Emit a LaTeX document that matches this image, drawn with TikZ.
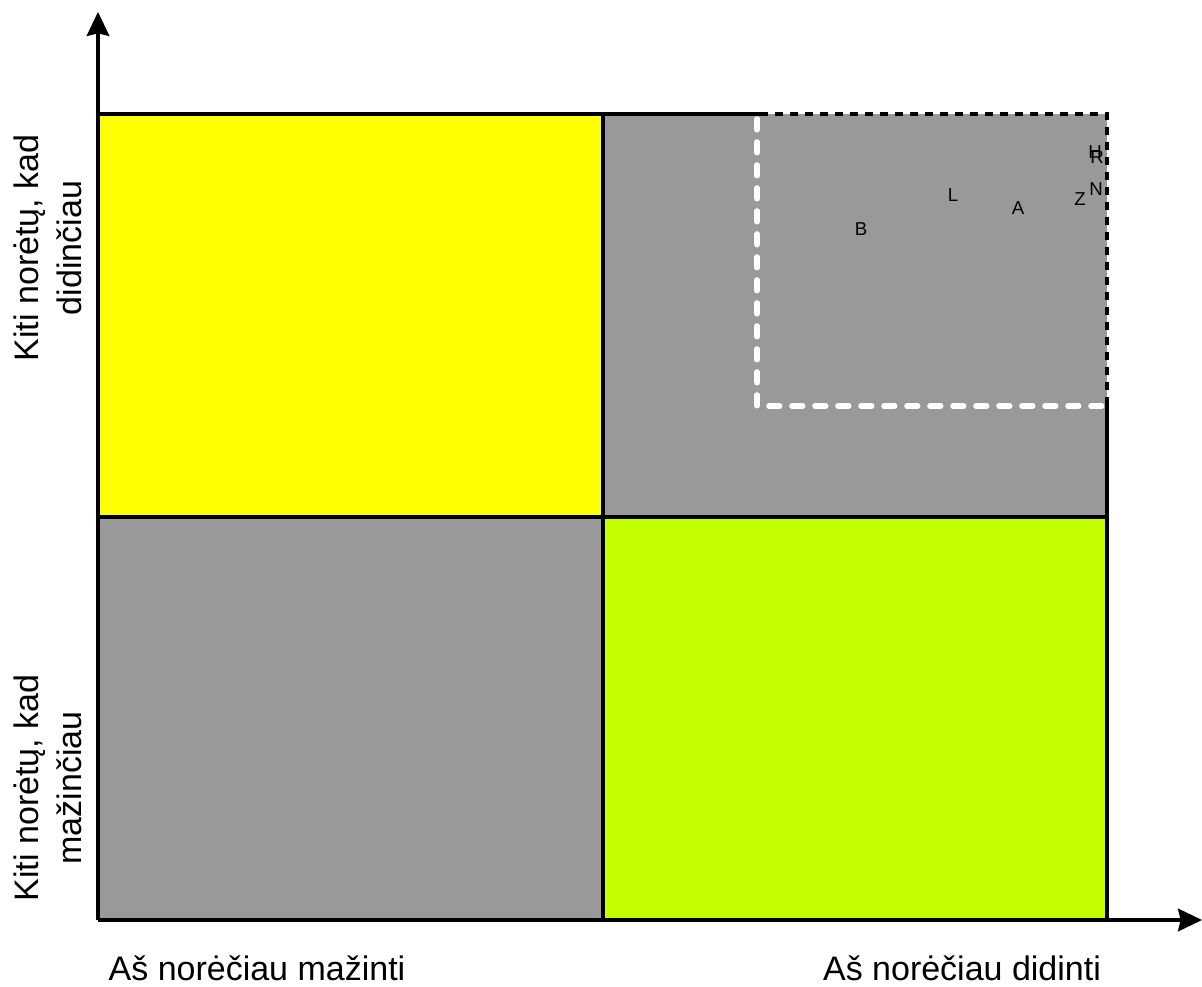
\documentclass[tikz,border=0pt]{standalone}
\usepackage{fontspec}
\setmainfont{Liberation Sans}
\usetikzlibrary{arrows.meta}
\definecolor{qyellow}{RGB}{255,255,0}
\definecolor{qgray}{RGB}{153,153,153}
\definecolor{qlime}{RGB}{196,255,0}
\tikzset{
  frameline/.style={line width=2.6pt, black},
  axisline/.style={line width=2.4pt, black, -{Stealth[length=18pt,width=17pt,inset=2pt]}},
  blackdots/.style={line width=3.4pt, black, dash pattern=on 6pt off 5.25pt},
  whitedash/.style={line width=4.2pt, white, line cap=round, dash pattern=on 8pt off 9.25pt},
  axislabel/.style={font=\fontsize{25.5}{32}\selectfont, inner sep=0pt},
  sidelabel/.style={font=\fontsize{25.5}{32}\selectfont, align=center, rotate=90, inner sep=0pt},
  pt/.style={font=\fontsize{14}{16}\selectfont, inner sep=0pt},
}
\begin{document}
\begin{tikzpicture}[x=0.75pt,y=-0.75pt]
\useasboundingbox (0,0) rectangle (1202,987);
% key coordinates
\coordinate (O) at (98,920);
\coordinate (TL) at (98,114);
\coordinate (TR) at (1107,114);
\coordinate (BR) at (1107,920);
\coordinate (MT) at (603,114);
\coordinate (MB) at (603,920);
\coordinate (ML) at (98,517);
\coordinate (MR) at (1107,517);
\coordinate (C) at (603,517);
\coordinate (Ytip) at (98,12);
\coordinate (Xtip) at (1202,920);
% quadrants
\fill[qyellow] (TL) rectangle (C);
\fill[qgray] (MT) rectangle (MR);
\fill[qgray] (ML) rectangle (MB);
\fill[qlime] (C) rectangle (BR);
% dashed region corners
\coordinate (D1) at (757,119);
\coordinate (D2) at (757,406);
\coordinate (D3) at (1103,406);
\coordinate (DT) at (760,114);
\coordinate (DR) at (1107,405);
% grid lines
\draw[frameline] (MT) -- (MB);
\draw[frameline] (ML) -- (MR);
\draw[frameline] (TL) -- (DT);
\draw[frameline] (DR) -- (BR);
% dashed boundaries
\draw[blackdots] (DT) -- (TR) -- (DR);
\draw[whitedash] (D1) -- (D2) -- (D3);
% axes
\draw[axisline] (O) -- (Ytip);
\draw[axisline] (O) -- (Xtip);
% points
\node[pt] (pB) at (861,229) {B};
\node[pt] (pL) at (953,195) {L};
\node[pt] (pA) at (1018,208) {A};
\node[pt] (pZ) at (1080,199) {Z};
\node[pt] (pN) at (1096,189) {N};
\node[pt] (pH) at (1095,152) {H};
\node[pt] (pR) at (1097,157) {R};
% labels
\node[axislabel, anchor=base] (xlo) at (257,980) {Aš norėčiau mažinti};
\node[axislabel, anchor=base] (xhi) at (962,980) {Aš norėčiau didinti};
\node[sidelabel] (yhi) at (48,248) {Kiti norėtų, kad\\didinčiau};
\node[sidelabel] (ylo) at (48,788) {Kiti norėtų, kad\\mažinčiau};
\end{tikzpicture}
\end{document}
